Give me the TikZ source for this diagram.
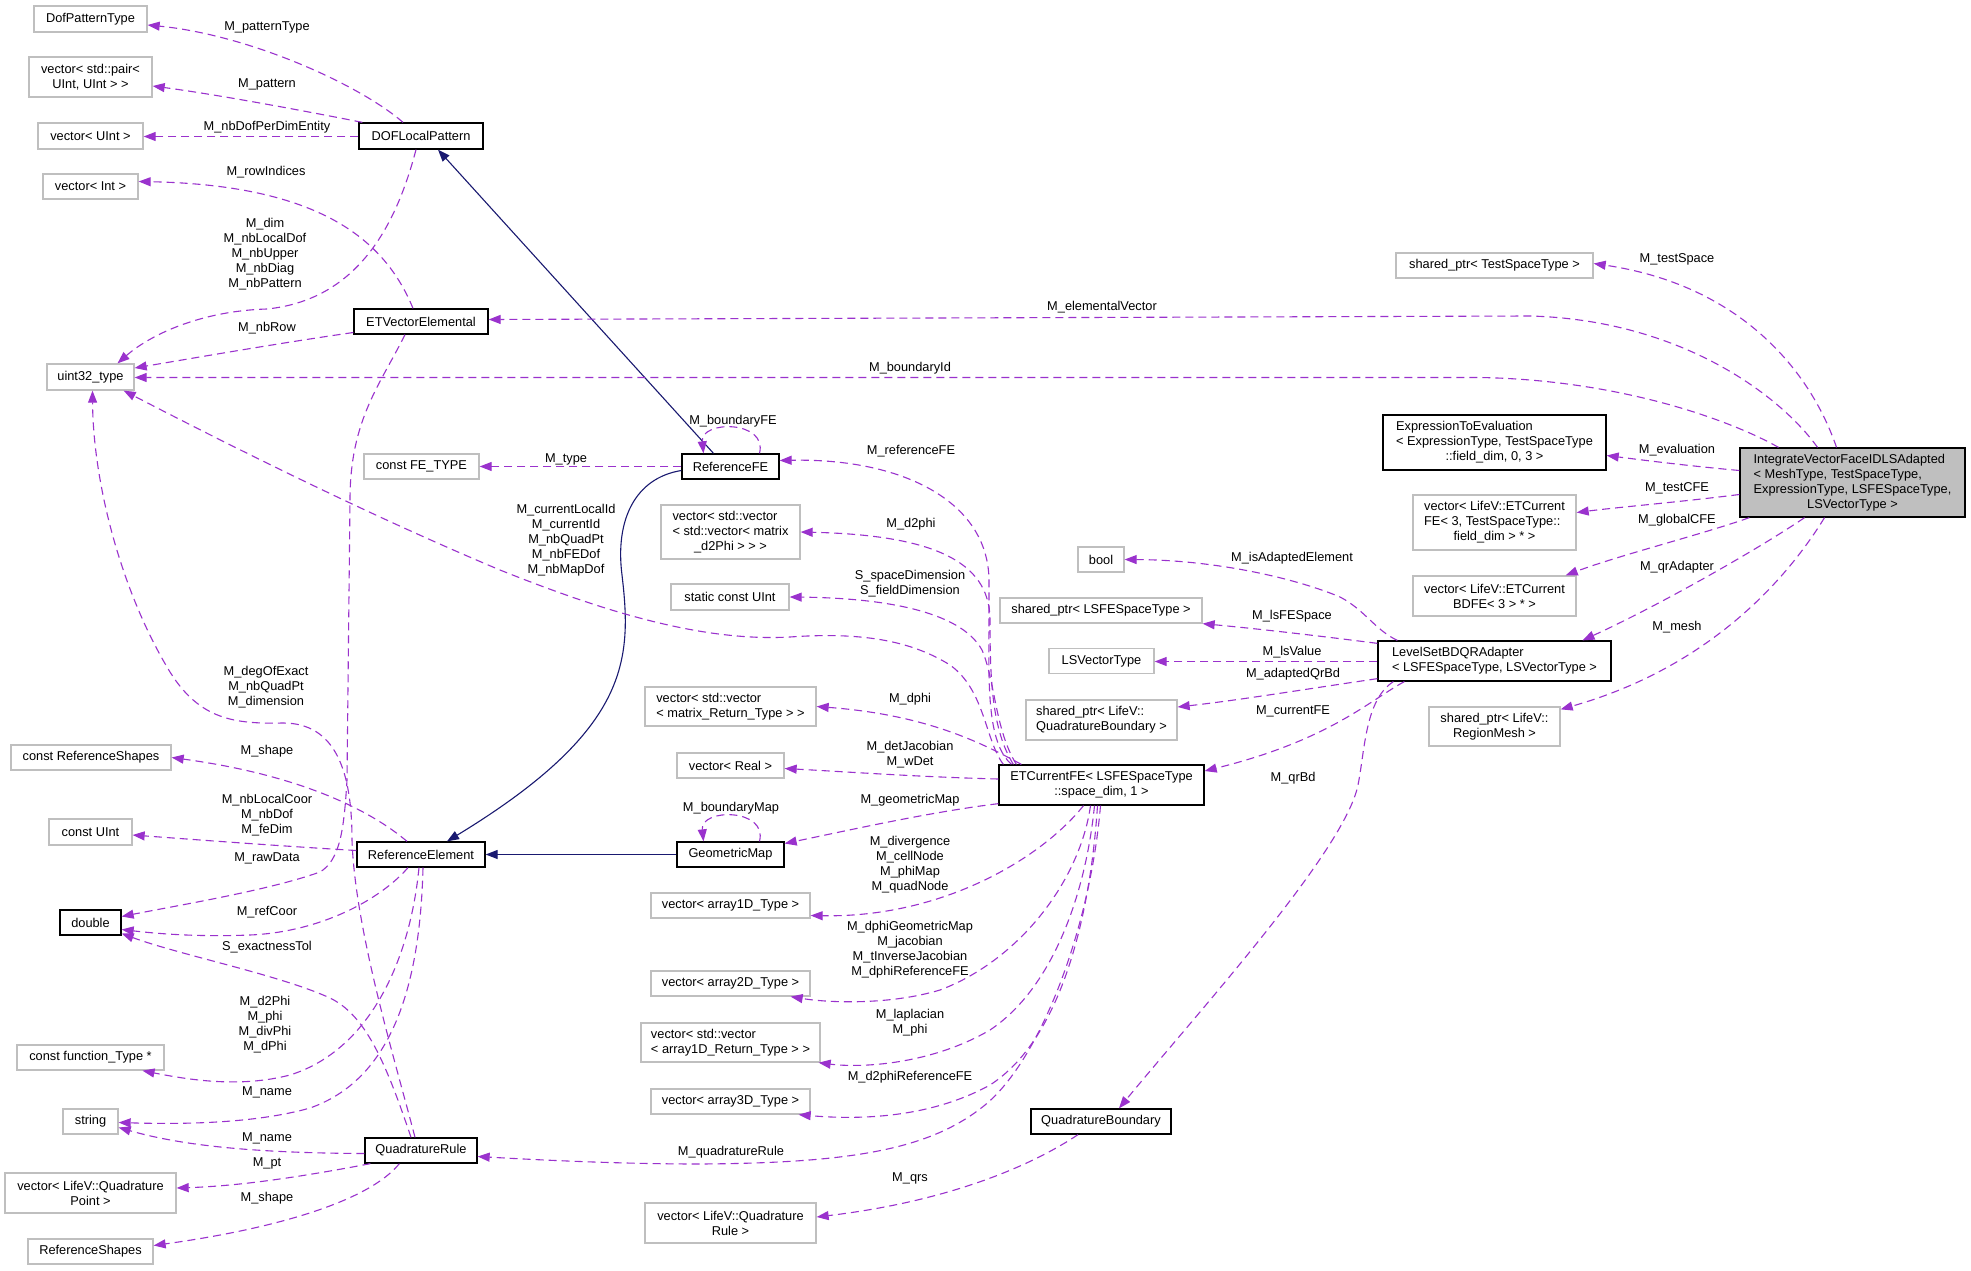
\documentclass[tikz,border=0pt]{standalone}
\usepackage{fontspec}
\setmainfont{Liberation Sans}
\usetikzlibrary{arrows.meta}
\definecolor{usecol}{HTML}{9A32CD}
\definecolor{inhcol}{HTML}{191970}
\definecolor{boxgray}{HTML}{BFBFBF}
\definecolor{maingray}{HTML}{BFBFBF}
\newcommand{\ltab}[1]{\begin{tabular}{@{}l@{}}#1\end{tabular}}
\newcommand{\mcl}[1]{\multicolumn{1}{@{}c@{}}{#1}}
\begin{document}
\begin{tikzpicture}[x=1pt,y=-1pt,
  every node/.style={font=\fontsize{12.8pt}{15pt}\selectfont},
  gb/.style={draw=boxgray, line width=1.3pt, fill=white, inner sep=0pt, align=center},
  bb/.style={draw=black, line width=1.3pt, fill=white, inner sep=0pt, align=center},
  mb/.style={bb, fill=maingray},
  lbl/.style={inner sep=0pt, align=center},
  use/.style={draw=usecol, line width=1.1pt, dash pattern=on 8pt off 5pt, -{Triangle[length=12pt,width=9pt]}},
  inh/.style={draw=inhcol, line width=1.1pt, -{Triangle[length=12pt,width=9pt]}}]
\path[fill=white,use as bounding box] (0,0) rectangle (1971,1271);

% ---- left column
\node[gb, minimum width=113pt, minimum height=26pt] (dpt) at (90.5,19) {DofPatternType};
\node[gb, minimum width=123pt, minimum height=40pt] (pair) at (90.5,77) {vector< std::pair<\\UInt, UInt > >};
\node[gb, minimum width=105pt, minimum height=26pt] (vuint) at (90.5,136) {vector< UInt >};
\node[gb, minimum width=95pt, minimum height=25pt] (vint) at (90.5,186.5) {vector< Int >};
\node[gb, minimum width=87pt, minimum height=26pt] (u32) at (90.5,377) {uint32\_type};
\node[gb, minimum width=160pt, minimum height=25pt] (crs) at (91,757.5) {const ReferenceShapes};
\node[gb, minimum width=83pt, minimum height=26pt] (cui) at (90.5,832) {const UInt};
\node[bb, minimum width=61pt, minimum height=25pt] (dbl) at (90.5,922.5) {double};
\node[gb, minimum width=147pt, minimum height=25pt] (cft) at (90.5,1057.5) {const function\_Type *};
\node[gb, minimum width=55pt, minimum height=25pt] (str) at (90.5,1121.5) {string};
\node[gb, minimum width=171pt, minimum height=40pt] (qpt) at (90.5,1193) {vector< LifeV::Quadrature\\Point >};
\node[gb, minimum width=125pt, minimum height=25pt] (rs) at (90.5,1251.5) {ReferenceShapes};

% ---- second column
\node[bb, minimum width=124pt, minimum height=26pt] (dlp) at (421,136) {DOFLocalPattern};
\node[bb, minimum width=134pt, minimum height=25pt] (etv) at (421,321.5) {ETVectorElemental};
\node[gb, minimum width=115pt, minimum height=25pt] (cfe) at (421.5,466.5) {const FE\_TYPE};
\node[bb, minimum width=128pt, minimum height=25pt] (re) at (421,854.5) {ReferenceElement};
\node[bb, minimum width=112pt, minimum height=25pt] (qr) at (421,1150.5) {QuadratureRule};

% ---- third column
\node[bb, minimum width=97pt, minimum height=25pt] (rfe) at (730.5,466.5) {ReferenceFE};
\node[gb, minimum width=139pt, minimum height=54pt] (d2p) at (730.5,532) {\ltab{vector< std::vector\\< std::vector< matrix\\\mcl{\_d2Phi > > >}}};
\node[gb, minimum width=118pt, minimum height=26pt] (scu) at (730,597) {static const UInt};
\node[gb, minimum width=171pt, minimum height=39pt] (mrt) at (730.5,706.5) {\ltab{vector< std::vector\\< matrix\_Return\_Type > >}};
\node[gb, minimum width=107pt, minimum height=25pt] (vrl) at (730.5,765.5) {vector< Real >};
\node[bb, minimum width=107pt, minimum height=25pt] (gm) at (730.5,854.5) {GeometricMap};
\node[gb, minimum width=159pt, minimum height=25pt] (a1) at (730.5,905.5) {vector< array1D\_Type >};
\node[gb, minimum width=159pt, minimum height=25pt] (a2) at (730.5,983.5) {vector< array2D\_Type >};
\node[gb, minimum width=179pt, minimum height=39pt] (a1r) at (730.5,1042.5) {\ltab{vector< std::vector\\< array1D\_Return\_Type > >}};
\node[gb, minimum width=159pt, minimum height=25pt] (a3) at (730.5,1101.5) {vector< array3D\_Type >};
\node[gb, minimum width=171pt, minimum height=40pt] (vqr) at (730.5,1223) {vector< LifeV::Quadrature\\Rule >};

% ---- fourth column
\node[bb, minimum width=205pt, minimum height=40pt] (etc) at (1101.5,785) {ETCurrentFE< LSFESpaceType\\::space\_dim, 1 >};
\node[bb, minimum width=140pt, minimum height=25pt] (qb) at (1101,1121.5) {QuadratureBoundary};
\node[gb, minimum width=46pt, minimum height=25pt] (nbool) at (1101,559.5) {bool};
\node[gb, minimum width=202pt, minimum height=25pt] (spls) at (1101,610.5) {shared\_ptr< LSFESpaceType >};
\node[gb, minimum width=105pt, minimum height=25pt] (lsv) at (1101.5,661) {LSVectorType};
\node[gb, minimum width=151pt, minimum height=40pt] (spqb) at (1101.5,720) {\ltab{shared\_ptr< LifeV::\\QuadratureBoundary >}};

% ---- fifth column
\node[gb, minimum width=197pt, minimum height=25pt] (tsp) at (1494.5,265.5) {shared\_ptr< TestSpaceType >};
\node[bb, minimum width=223pt, minimum height=55pt] (expr) at (1494.5,442.5) {\ltab{ExpressionToEvaluation\\< ExpressionType, TestSpaceType\\\mcl{::field\_dim, 0, 3 >}}};
\node[gb, minimum width=163pt, minimum height=55pt] (vcfe) at (1494.5,522.5) {\ltab{vector< LifeV::ETCurrent\\FE< 3, TestSpaceType::\\\mcl{field\_dim > * >}}};
\node[gb, minimum width=163pt, minimum height=40pt] (vbd) at (1494.5,596) {vector< LifeV::ETCurrent\\BDFE< 3 > * >};
\node[bb, minimum width=233pt, minimum height=40pt] (ls) at (1494.5,661) {\ltab{LevelSetBDQRAdapter\\< LSFESpaceType, LSVectorType >}};
\node[gb, minimum width=131pt, minimum height=39pt] (rm) at (1494.5,726.5) {shared\_ptr< LifeV::\\RegionMesh >};

% ---- main
\node[mb, minimum width=225pt, minimum height=69pt] (main) at (1852.5,482.5) {\ltab{IntegrateVectorFaceIDLSAdapted\\< MeshType, TestSpaceType,\\\mcl{ExpressionType, LSFESpaceType,}\\\mcl{LSVectorType >}}};

% ---- inheritance
\draw[inh] ([xshift=-17pt]rfe.north) -- ([xshift=17pt]dlp.south);
\draw[inh] ([yshift=-4pt]rfe.west) .. controls (635,478) and (615,520) .. (622,575) .. controls (632,660) and (630,730) .. ([xshift=26pt]re.north);
\draw[inh] (gm.west) -- (re.east);

% ---- DOFLocalPattern
\draw[use] ([xshift=-18pt]dlp.north) .. controls (360,85) and (250,35) .. ([yshift=-6pt]dpt.east);
\draw[use] ([xshift=4pt]dlp.north west) .. controls (310,112) and (220,95) .. ([yshift=-9pt]pair.east);
\draw[use] ([yshift=-0.5pt]dlp.west) -- ([yshift=-0.5pt]vuint.east);
\draw[use] ([xshift=-5pt]dlp.south) .. controls (395,230) and (355,300) .. (267,309) .. controls (200,311) and (150,335) .. ([xshift=27pt]u32.north);

% ---- ETVectorElemental
\draw[use] ([xshift=-8pt]etv.north) .. controls (385,240) and (320,185) .. ([yshift=5pt]vint.east);
\draw[use] ([yshift=-11pt]etv.west) .. controls (280,343) and (200,357) .. ([yshift=9pt]u32.east);
\draw[use] ([xshift=-16pt]etv.south) .. controls (380,385) and (350,420) .. (350,500) -- (347,780) .. controls (344,830) and (340,860) .. (320,872) .. controls (270,890) and (180,905) .. ([yshift=6pt]dbl.east);

% ---- ReferenceFE
\draw[use] ([xshift=29pt]rfe.north) .. controls (768,420) and (700,420) .. ([xshift=-27pt]rfe.north);
\draw[use] (rfe.west) -- (cfe.east);

% ---- GeometricMap
\draw[use] ([xshift=29pt]gm.north) .. controls (768,808) and (700,808) .. ([xshift=-27pt]gm.north);

% ---- ReferenceElement
\draw[use] ([xshift=-14pt]re.north) .. controls (370,810) and (300,775) .. (crs.east);
\draw[use] ([yshift=4pt]re.west) .. controls (280,846) and (200,840) .. ([yshift=-3pt]cui.east);
\draw[use] ([xshift=-13pt]re.south) .. controls (380,900) and (320,932) .. (250,935) .. controls (200,937) and (160,934) .. ([yshift=-7pt]dbl.east);
\draw[use] ([xshift=-2pt]re.south) .. controls (410,960) and (370,1050) .. (290,1075) .. controls (240,1088) and (190,1080) .. ([xshift=52pt]cft.south);
\draw[use] ([xshift=2pt]re.south) .. controls (420,990) and (390,1080) .. (310,1108) .. controls (250,1125) and (170,1124) .. ([yshift=-1pt]str.east);

% ---- QuadratureRule
\draw[use] ([xshift=-6pt]qr.north) .. controls (395,1060) and (355,930) .. (352,840) .. controls (352,770) and (335,723) .. (283,723) .. controls (235,724) and (200,720) .. (170,672) .. controls (120,590) and (93,480) .. ([xshift=2pt]u32.south);
\draw[use] ([xshift=-10pt]qr.north) .. controls (385,1060) and (365,1015) .. (330,998) .. controls (280,975) and (180,955) .. ([yshift=-11pt]dbl.east);
\draw[use] ([yshift=-3pt]qr.west) .. controls (250,1153) and (180,1145) .. ([yshift=-6pt]str.east);
\draw[use] ([xshift=6pt]qr.south west) .. controls (300,1177) and (240,1186) .. ([yshift=5pt]qpt.east);
\draw[use] ([xshift=35pt]qr.south west) .. controls (370,1200) and (280,1228) .. ([yshift=6pt]rs.east);

% ---- ETCurrentFE
\draw[use] ([xshift=13pt]etc.north west) .. controls (990,745) and (988,700) .. (989,630) -- (989,580) .. controls (988,500) and (900,458) .. ([yshift=6pt]rfe.east);
\draw[use] ([xshift=5pt]etc.north west) .. controls (985,740) and (985,690) .. (950,665) .. controls (910,640) and (860,632) .. (790,637) .. controls (700,642) and (600,610) .. (500,570) .. controls (350,507) and (200,430) .. ([xshift=-11pt]u32.south east);
\draw[use] ([xshift=15pt]etc.north west) .. controls (992,730) and (990,680) .. (990,620) .. controls (990,560) and (930,535) .. (d2p.east);
\draw[use] ([xshift=18pt]etc.north west) .. controls (995,730) and (995,680) .. (982,650) .. controls (960,610) and (880,598) .. (scu.east);
\draw[use] ([xshift=23pt]etc.north west) .. controls (985,745) and (930,715) .. (mrt.east);
\draw[use] ([yshift=6pt]etc.west) .. controls (920,777) and (850,772) .. ([yshift=-3pt]vrl.east);
\draw[use] ([yshift=2pt]etc.south west) .. controls (930,812) and (850,830) .. ([yshift=11pt]gm.east);
\draw[use] ([xshift=-18pt]etc.south) .. controls (1040,860) and (940,918) .. ([yshift=-10pt]a1.east);
\draw[use] ([xshift=-11pt]etc.south) .. controls (1080,880) and (1020,960) .. (940,990) .. controls (890,1005) and (830,1003) .. ([xshift=-20pt]a2.south east);
\draw[use] ([xshift=-7pt]etc.south) .. controls (1085,900) and (1050,990) .. (990,1030) .. controls (930,1065) and (860,1068) .. ([xshift=-2pt]a1r.south east);
\draw[use] ([xshift=-4pt]etc.south) .. controls (1090,920) and (1060,1040) .. (990,1085) .. controls (930,1118) and (860,1120) .. ([xshift=-12pt]a3.south east);
\draw[use] ([xshift=-1pt]etc.south) .. controls (1090,930) and (1040,1060) .. (985,1105) .. controls (930,1150) and (850,1163) .. (700,1164) .. controls (620,1164) and (540,1160) .. ([yshift=-6pt]qr.east);

% ---- QuadratureBoundary
\draw[use] ([xshift=-23pt]qb.south) .. controls (1040,1160) and (960,1200) .. ([yshift=6pt]vqr.east);

% ---- LevelSetBDQRAdapter
\draw[use] ([xshift=20pt]ls.north west) .. controls (1375,630) and (1365,610) .. (1340,597) .. controls (1300,580) and (1220,560) .. (nbool.east);
\draw[use] ([yshift=-3pt]ls.north west) .. controls (1320,636) and (1260,629) .. (spls.south east);
\draw[use] ([yshift=-0.5pt]ls.west) -- ([yshift=-0.5pt]lsv.east);
\draw[use] ([yshift=3pt]ls.south west) .. controls (1300,690) and (1240,700) .. ([yshift=13pt]spqb.east);
\draw[use] ([xshift=27pt]ls.south west) .. controls (1370,700) and (1330,740) .. ([yshift=14pt]etc.east);
\draw[use] ([xshift=16pt]ls.south west) .. controls (1365,700) and (1365,750) .. (1358,785) .. controls (1345,850) and (1200,1010) .. ([xshift=18pt]qb.north);

% ---- main
\draw[use] ([xshift=-35pt]main.north) .. controls (1780,395) and (1680,320) .. (1530,316) -- ([yshift=2pt]etv.east);
\draw[use] ([xshift=-74pt]main.north) .. controls (1730,420) and (1620,380) .. (1480,377.5) -- ([yshift=-0.5pt]u32.east);
\draw[use] ([xshift=-16pt]main.north) .. controls (1810,370) and (1740,285) .. ([yshift=2pt]tsp.east);
\draw[use] ([yshift=12pt]main.west) .. controls (1690,466) and (1650,461) .. ([yshift=-13pt]expr.east);
\draw[use] ([yshift=-12pt]main.west) .. controls (1680,502) and (1620,507) .. ([yshift=10pt]vcfe.east);
\draw[use] ([xshift=10pt]main.south west) .. controls (1700,535) and (1620,555) .. ([xshift=-11pt]vbd.north east);
\draw[use] ([xshift=-48pt]main.south) .. controls (1760,548) and (1660,605) .. ([xshift=88pt]ls.north);
\draw[use] ([xshift=-28pt]main.south) .. controls (1780,590) and (1700,670) .. ([yshift=-3pt]rm.north east);

% ---- labels
\node[lbl] (l1) at (267,27) {M\_patternType};
\node[lbl] (l2) at (267,84) {M\_pattern};
\node[lbl] (l3) at (267,127) {M\_nbDofPerDimEntity};
\node[lbl] (l4) at (266,172) {M\_rowIndices};
\node[lbl] (l5) at (265,254) {M\_dim\\M\_nbLocalDof\\M\_nbUpper\\M\_nbDiag\\M\_nbPattern};
\node[lbl] (l6) at (267,328) {M\_nbRow};
\node[lbl] (l7) at (266,687) {M\_degOfExact\\M\_nbQuadPt\\M\_dimension};
\node[lbl] (l8) at (267,751) {M\_shape};
\node[lbl] (l9) at (267,815) {M\_nbLocalCoor\\M\_nbDof\\M\_feDim};
\node[lbl] (l10) at (267,858) {M\_rawData};
\node[lbl] (l11) at (267,912) {M\_refCoor};
\node[lbl] (l12) at (267,947) {S\_exactnessTol};
\node[lbl] (l13) at (265,1025) {M\_d2Phi\\M\_phi\\M\_divPhi\\M\_dPhi};
\node[lbl] (l14) at (267,1092) {M\_name};
\node[lbl] (l15) at (267,1138) {M\_name};
\node[lbl] (l16) at (267,1163) {M\_pt};
\node[lbl] (l17) at (267,1198) {M\_shape};
\node[lbl] (l18) at (566,459) {M\_type};
\node[lbl] (l19) at (566,540) {M\_currentLocalId\\M\_currentId\\M\_nbQuadPt\\M\_nbFEDof\\M\_nbMapDof};
\node[lbl] (l20) at (733,421) {M\_boundaryFE};
\node[lbl] (l21) at (731,808) {M\_boundaryMap};
\node[lbl] (l22) at (731,1152) {M\_quadratureRule};
\node[lbl] (l23) at (911,451) {M\_referenceFE};
\node[lbl] (l24) at (911,524) {M\_d2phi};
\node[lbl] (l25) at (910,584) {S\_spaceDimension\\S\_fieldDimension};
\node[lbl] (l26) at (910,699) {M\_dphi};
\node[lbl] (l27) at (910,755) {M\_detJacobian\\M\_wDet};
\node[lbl] (l28) at (910,800) {M\_geometricMap};
\node[lbl] (l29) at (910,865) {M\_divergence\\M\_cellNode\\M\_phiMap\\M\_quadNode};
\node[lbl] (l30) at (910,950) {M\_dphiGeometricMap\\M\_jacobian\\M\_tInverseJacobian\\M\_dphiReferenceFE};
\node[lbl] (l31) at (910,1023) {M\_laplacian\\M\_phi};
\node[lbl] (l32) at (910,1077) {M\_d2phiReferenceFE};
\node[lbl] (l33) at (910,1178) {M\_qrs};
\node[lbl] (l34) at (1102,307) {M\_elementalVector};
\node[lbl] (l35) at (910,368) {M\_boundaryId};
\node[lbl] (l36) at (1292,558) {M\_isAdaptedElement};
\node[lbl] (l37) at (1292,616) {M\_lsFESpace};
\node[lbl] (l38) at (1292,652) {M\_lsValue};
\node[lbl] (l39) at (1293,674) {M\_adaptedQrBd};
\node[lbl] (l40) at (1293,711) {M\_currentFE};
\node[lbl] (l41) at (1293,778) {M\_qrBd};
\node[lbl] (l42) at (1677,259) {M\_testSpace};
\node[lbl] (l43) at (1677,450) {M\_evaluation};
\node[lbl] (l44) at (1677,488) {M\_testCFE};
\node[lbl] (l45) at (1677,520) {M\_globalCFE};
\node[lbl] (l46) at (1677,567) {M\_qrAdapter};
\node[lbl] (l47) at (1677,627) {M\_mesh};
\end{tikzpicture}
\end{document}
